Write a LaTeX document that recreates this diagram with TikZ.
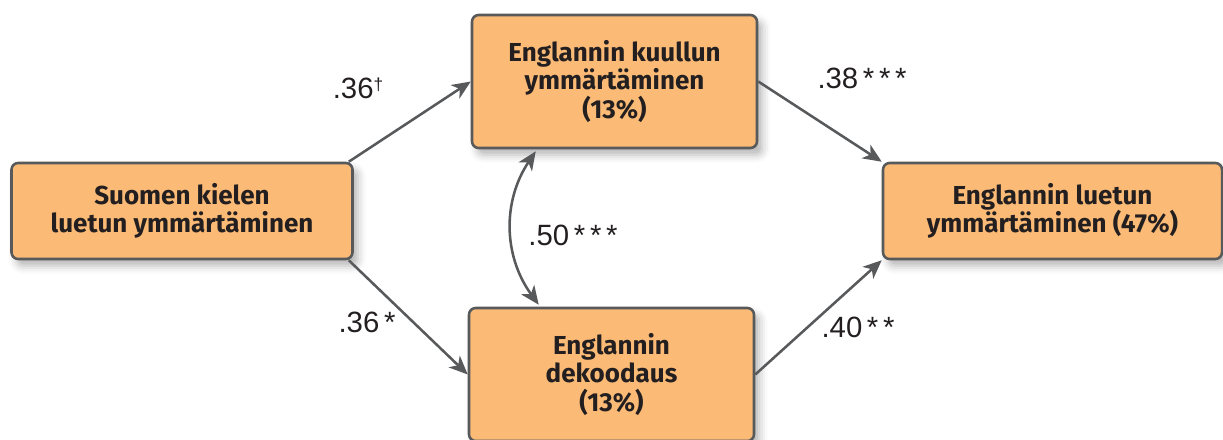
\documentclass[tikz,border=0pt]{standalone}
\usepackage{fontspec}
\setmainfont{Fira Sans}
\newfontfamily\labfont{Liberation Sans}
\usetikzlibrary{arrows.meta,shadows.blur,calc}
\definecolor{boxfill}{RGB}{251,187,118}
\definecolor{edge}{RGB}{88,89,91}
\definecolor{txt}{RGB}{35,31,32}
\tikzset{
  stepbox/.style={draw=edge, line width=1.9pt, fill=boxfill, rounded corners=5pt,
    align=center, text=txt, font=\fontsize{19.5}{21.5}\selectfont\bfseries, inner sep=0pt,
    blur shadow={shadow xshift=4pt, shadow yshift=-5pt, shadow blur radius=6pt, shadow opacity=30}},
  conn/.style={draw=edge, line width=1.9pt, -{Stealth[length=14pt,width=12pt,inset=4pt]}},
  coeff/.style={text=txt, font=\labfont\fontsize{22}{26}\selectfont, inner sep=0pt}
}
\newcommand{\st}{\hspace{3.5pt}*}
\begin{document}
\begin{tikzpicture}[x=0.75pt,y=-0.75pt]
\useasboundingbox (0,0) rectangle (1223,439);
\node[stepbox, minimum width={341*0.75pt}, minimum height={96*0.75pt}] (L) at (182,211) {Suomen kielen\\luetun ymmärtäminen};
\node[stepbox, minimum width={285*0.75pt}, minimum height={133*0.75pt}] (T) at (614.5,81.5) {Englannin kuullun\\ymmärtäminen\\(13\%)};
\node[stepbox, minimum width={285*0.75pt}, minimum height={133*0.75pt}] (B) at (611.5,374.5) {Englannin\\dekoodaus\\(13\%)};
\node[stepbox, minimum width={339*0.75pt}, minimum height={96*0.75pt}] (R) at (1052.5,211) {Englannin luetun\\ymmärtäminen (47\%)};
\draw[conn] ($(L.north east)+(-5,0)$) -- (T.west);
\draw[conn] ($(L.south east)+(-5,0)$) -- (B.west);
\draw[conn] (T.east) -- (R.north west);
\draw[conn] (B.east) -- (R.south west);
\draw[draw=edge, line width=1.9pt, {Stealth[length=14pt,width=12pt,inset=4pt]}-{Stealth[length=14pt,width=12pt,inset=4pt]}]
  ($(T.south west)+(65,2)$) to[bend right=35] ($(B.north west)+(71,-2)$);
\node[coeff] (c1) at (358,88) {.36\raisebox{6pt}{\fontsize{13}{13}\selectfont †}};
\node[coeff] (c2) at (862,78) {.38\st\st\st};
\node[coeff] (c3) at (573,235) {.50\st\st\st};
\node[coeff] (c4) at (367,322) {.36\st};
\node[coeff] (c5) at (858,327) {.40\st\st};
\end{tikzpicture}
\end{document}
